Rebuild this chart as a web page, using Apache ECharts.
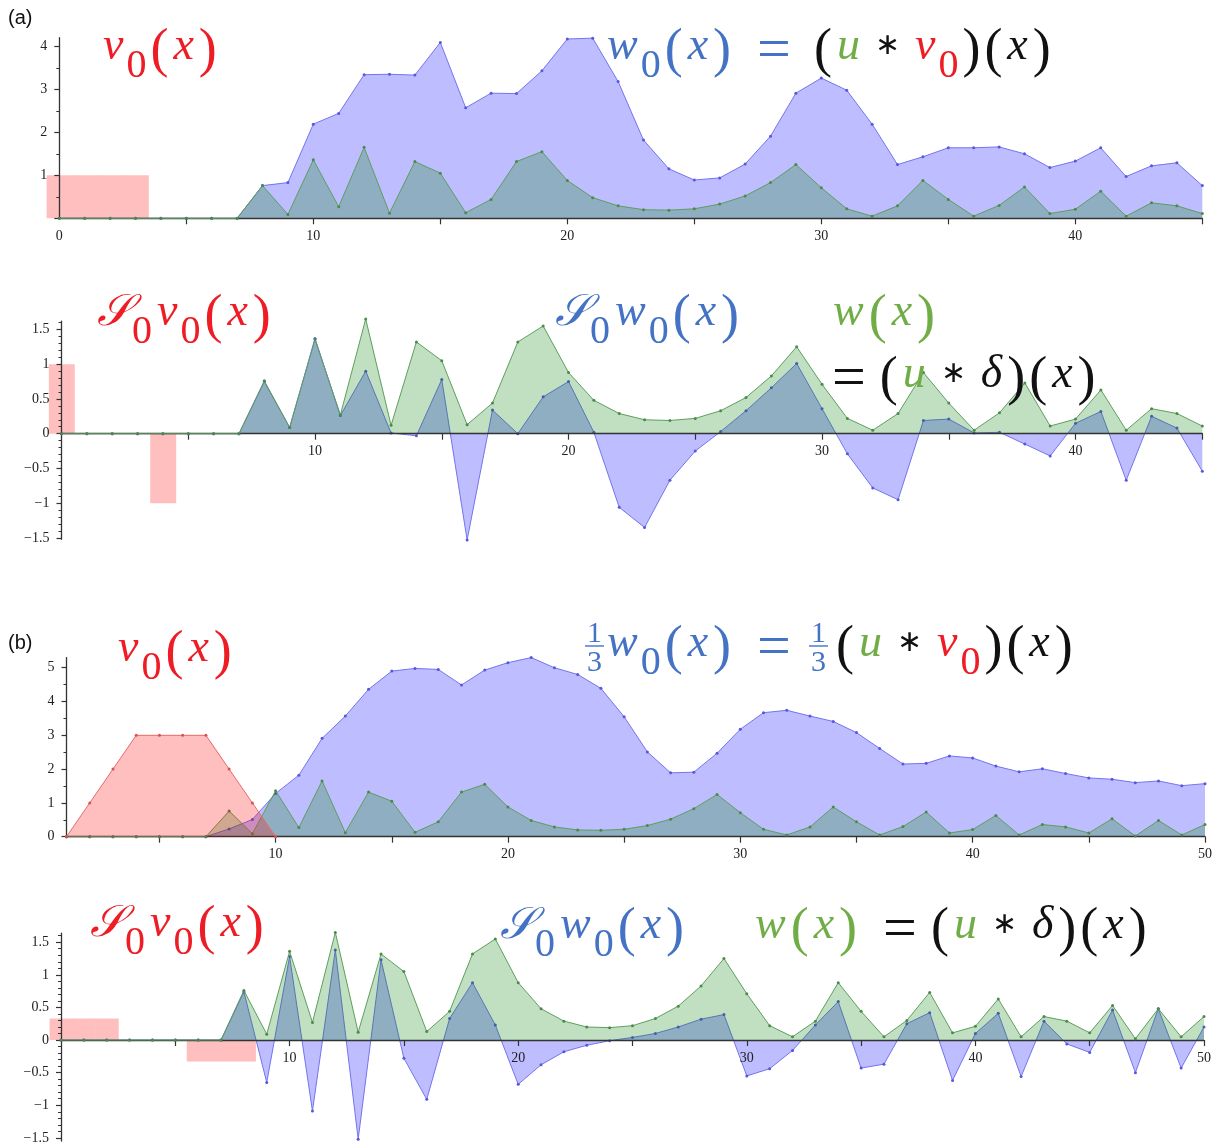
<!DOCTYPE html>
<html><head><meta charset="utf-8">
<script src="https://cdn.jsdelivr.net/npm/echarts@6/dist/echarts.min.js"></script>
<style>html,body{margin:0;padding:0;background:#fff}#c{width:1215px;height:1144px}</style>
</head><body><div id="c"></div>
<script>
// u(x) = w(x), x = 0..50
const u = [0,0,0,0,0,0,0,0,0.76,0.09,1.36,0.27,1.65,0.12,1.32,1.05,0.13,0.44,1.32,1.55,0.88,0.48,0.29,0.20,0.19,0.22,0.33,0.52,0.83,1.25,0.71,0.22,0.05,0.29,0.88,0.44,0.05,0.30,0.73,0.11,0.21,0.63,0.05,0.36,0.29,0.11,0.53,0.02,0.48,0.05,0.36];
// panel (a) top: w0(x), x = 0..45
const w0a = [0,0,0,0,0,0,0,0,0.76,0.83,2.19,2.44,3.34,3.35,3.33,4.09,2.57,2.91,2.90,3.43,4.17,4.19,3.18,1.82,1.15,0.89,0.94,1.26,1.91,2.91,3.26,2.98,2.19,1.25,1.43,1.64,1.64,1.66,1.50,1.18,1.33,1.64,0.97,1.22,1.29,0.76];
const v0aX = [0,1,2,3], v0aY = [1,1,1,1];
// panel (a) bottom: S0 w0(x), x = 0..45
const s0w0a = [0,0,0,0,0,0,0,0,0.75,0.09,1.37,0.26,0.90,0.01,-0.03,0.78,-1.53,0.34,0.00,0.53,0.75,0.02,-1.06,-1.35,-0.67,-0.25,0.03,0.33,0.66,1.01,0.36,-0.29,-0.78,-0.95,0.19,0.21,0.01,0.02,-0.15,-0.32,0.15,0.32,-0.67,0.25,0.08,-0.54];
const s0v0aX = [0,4], s0v0aY = [1,-1];
// panel (b) top: (1/3) w0(x), x = 1..50 ; v0(x), x = 1..10
const w0b = [0,0,0,0,0,0,0,0.23,0.51,1.28,1.82,2.91,3.57,4.36,4.90,4.98,4.95,4.49,4.93,5.15,5.30,5.00,4.80,4.39,3.55,2.51,1.89,1.91,2.47,3.18,3.67,3.74,3.57,3.41,3.08,2.61,2.15,2.17,2.39,2.33,2.09,1.92,2.01,1.87,1.74,1.70,1.60,1.65,1.51,1.57];
const v0b = [0,1,2,3,3,3,3,2,1,0];
// panel (b) bottom: S0 w0(x), x = 0..50
const s0w0b = [0,0,0,0,0,0,0,0,0.74,-0.65,1.28,-1.09,1.38,-1.52,1.23,-0.28,-0.91,0.33,0.88,0.23,-0.68,-0.38,-0.18,-0.08,-0.01,0.04,0.10,0.20,0.32,0.39,-0.55,-0.44,-0.16,0.23,0.59,-0.43,-0.37,0.25,0.42,-0.62,0.10,0.41,-0.56,0.29,-0.06,-0.19,0.46,-0.50,0.48,-0.43,0.20];
const s0v0bX = [0,1,2,6,7,8], s0v0bY = [0.33,0.33,0.33,-0.33,-0.33,-0.33];

// tick values
const xTickA = [5,10,15,20,25,30,35,40,45];
const xLabA1 = [0,10,20,30,40];
const xLabA2 = [10,20,30,40];
const xTickB = [5,10,15,20,25,30,35,40,45,50];
const xLabB = [10,20,30,40,50];
const yMajA1 = [0,1,2,3,4], yLabA1 = [1,2,3,4], yMinA1 = [0.5,1.5,2.5,3.5];
const yMajB1 = [0,1,2,3,4,5], yMinB1 = [0.5,1.5,2.5,3.5,4.5];
const yMajS = [-1.5,-1,-0.5,0,0.5,1,1.5];
const yMinS = [-1.4,-1.3,-1.2,-1.1,-0.9,-0.8,-0.7,-0.6,-0.4,-0.3,-0.2,-0.1,0.1,0.2,0.3,0.4,0.6,0.7,0.8,0.9,1.1,1.2,1.3,1.4,1.6];

const pairs = (start, arr) => arr.map((v, i) => [start + i, v]);
const zip = (xs, ys) => xs.map((x, i) => [x, ys[i]]);

const AX = '#333';
const TF = {fontFamily: 'Liberation Serif', fontSize: 14, color: '#222'};
const BLUE_L = '#7474ee', BLUE_F = 'rgba(0,0,255,0.26)', BLUE_D = '#5656e0';
const GREEN_L = '#5e9e5e', GREEN_F = 'rgba(0,128,0,0.245)', GREEN_D = '#4a8a4a';
const RED_L = '#e86a6a', RED_F = 'rgba(255,0,0,0.25)', PINK = '#ffbfbf';

const G = [
  {left: 59.3, top: 37.7, width: 1143, height: 180.6, ymin: 0, ymax: 4.2},
  {left: 61.5, top: 321.1, width: 1140.8, height: 218.2, ymin: -1.52, ymax: 1.62},
  {left: 66.5, top: 657.6, width: 1138.5, height: 179.1, ymin: 0, ymax: 5.3},
  {left: 61, top: 933.1, width: 1143, height: 208, ymin: -1.55, ymax: 1.64}
];
const grids = G.map(g => ({left: g.left, top: g.top, width: g.width, height: g.height, outerBoundsMode: 'none', containLabel: false}));
// offset that puts the x axis on y = 0
const zeroOffset = gi => {
  const g = G[gi];
  return -(g.height * (0 - g.ymin) / (g.ymax - g.ymin));
};

function xAx(gi, min, max, ticks, labels) {
  return {gridIndex: gi, type: 'value', min, max, position: 'bottom', offset: zeroOffset(gi),
    axisLine: {onZero: false, lineStyle: {color: AX, width: 1.3}},
    axisTick: {show: true, customValues: ticks, length: 6, lineStyle: {color: AX, width: 1.2}},
    axisLabel: Object.assign({customValues: labels, margin: 11}, TF),
    splitLine: {show: false}, z: 3};
}
function yAxes(gi, majors, labels, minors) {
  const g = G[gi];
  return [{gridIndex: gi, type: 'value', position: 'left', min: g.ymin, max: g.ymax, z: 3,
    axisLine: {show: true, onZero: false, lineStyle: {color: AX, width: 1.3}},
    axisTick: {show: true, customValues: majors, length: 5, lineStyle: {color: AX, width: 1.2}},
    axisLabel: Object.assign({customValues: labels, margin: 12,
      formatter: v => String(v).replace('-', '\u2212')}, TF),
    splitLine: {show: false}},
  {gridIndex: gi, type: 'value', position: 'left', min: g.ymin, max: g.ymax, z: 3,
    axisLine: {show: false, onZero: false},
    axisTick: {show: true, customValues: minors, length: 3, lineStyle: {color: AX, width: 1}},
    axisLabel: {show: false}, splitLine: {show: false}}];
}
function line(gi, data, lc, fc, dc, z) {
  return {type: 'line', xAxisIndex: gi, yAxisIndex: 2 * gi, data,
    symbol: 'circle', symbolSize: 3, showSymbol: true, clip: false, silent: true, z,
    lineStyle: {color: lc, width: 1}, itemStyle: {color: dc},
    areaStyle: {color: fc, opacity: 1}};
}
function rects(gi, data) {
  return {type: 'custom', xAxisIndex: gi, yAxisIndex: 2 * gi, data, clip: false, silent: true, z: -1,
    renderItem: (params, api) => {
      const x = api.value(0), v = api.value(1);
      const a = api.coord([x - 0.5, v]), b = api.coord([x + 0.5, 0]);
      return {type: 'rect', shape: {x: Math.min(a[0], b[0]), y: Math.min(a[1], b[1]),
        width: Math.abs(b[0] - a[0]) + 0.6, height: Math.abs(b[1] - a[1])}, style: {fill: PINK}};
    }};
}

// ---------- math labels (rich text) ----------
const COL = {R: '#ee1c24', B: '#4472c4', G: '#70ad47', K: '#111111'};
const MF = 'Liberation Serif';
function styleFor(kind, c) {
  const fill = COL[c];
  const t = (o, h) => Object.assign({fill, fontFamily: MF, height: h, lineHeight: h, verticalAlign: 'top'}, o);
  switch (kind) {
    case 'i': return t({fontStyle: 'italic', fontSize: 46, padding: [0, 3, 0, 3]}, 74);
    case 'S': return t({fontStyle: 'italic', fontSize: 44, padding: [0, 1, 0, 2]}, 74);
    case 'p': return t({fontSize: 54, padding: [0, 2, 0, 2]}, 84);
    case 's': return t({fontSize: 40, padding: [0, 2, 0, 0]}, 112);
    case 'e': return t({fontSize: 60, padding: [0, 12, 0, 24]}, 84);
    case 'a': return t({fontSize: 30, padding: [0, 12, 0, 12]}, 72);
  }
}
function mathLabel(x, base, segs) {
  const rich = {};
  let text = '';
  segs.forEach(([k, c, t]) => {
    const key = k + c;
    if (!rich[key]) rich[key] = styleFor(k, c);
    text += '{' + key + '|' + t + '}';
  });
  return {type: 'text', x, y: base - 50, silent: true, z: 100, style: {text, rich}};
}
function frac(x, top, c) {
  return [
    {type: 'text', x: x, y: top, silent: true, z: 100, style: {text: '1', fill: COL[c], fontFamily: MF, fontSize: 30}},
    {type: 'line', silent: true, z: 100, shape: {x1: x - 2, y1: top + 27, x2: x + 17, y2: top + 27}, style: {stroke: COL[c], lineWidth: 1.4}},
    {type: 'text', x: x, y: top + 29, silent: true, z: 100, style: {text: '3', fill: COL[c], fontFamily: MF, fontSize: 30}}
  ];
}
const SC = '\u{1D4AE}';
const v0R = [['i','R','v'],['s','R','0'],['p','R','('],['i','R','x'],['p','R',')']];
const S0v0 = [['S','R',SC],['s','R','0']].concat(v0R);
const S0w0 = [['S','B',SC],['s','B','0'],['i','B','w'],['s','B','0'],['p','B','('],['i','B','x'],['p','B',')']];
const wxG = [['i','G','w'],['p','G','('],['i','G','x'],['p','G',')']];
const uStarDelta = [['p','K','('],['i','G','u'],['a','K','\u2217'],['i','K','\u03B4'],['p','K',')'],['p','K','('],['i','K','x'],['p','K',')']];
const uStarV0 = [['p','K','('],['i','G','u'],['a','K','\u2217'],['i','R','v'],['s','R','0'],['p','K',')'],['p','K','('],['i','K','x'],['p','K',')']];
const w0eq = [['i','B','w'],['s','B','0'],['p','B','('],['i','B','x'],['p','B',')'],['e','B','=']];

const graphic = [
  {type: 'text', x: 8, y: 8, silent: true, style: {text: '(a)', fill: '#111', fontFamily: 'Liberation Sans', fontSize: 20}},
  {type: 'text', x: 8, y: 633, silent: true, style: {text: '(b)', fill: '#111', fontFamily: 'Liberation Sans', fontSize: 20}},
  mathLabel(100, 60, v0R),
  mathLabel(604, 60, w0eq),
  mathLabel(812, 60, uStarV0),
  mathLabel(95, 326, S0v0),
  mathLabel(553, 326, S0w0),
  mathLabel(830, 326, wxG),
  mathLabel(808, 388, [['e','K','=']].concat(uStarDelta)),
  mathLabel(115, 662, v0R),
  ...frac(587, 619, 'B'),
  mathLabel(604, 657, w0eq),
  ...frac(811, 619, 'B'),
  mathLabel(834, 657, uStarV0),
  mathLabel(88, 937, S0v0),
  mathLabel(498, 939, S0w0),
  mathLabel(752, 939, wxG.concat([['e','K','=']], uStarDelta))
];

const option = {
  animation: false,
  backgroundColor: '#fff',
  grid: grids,
  xAxis: [
    xAx(0, 0, 45, xTickA, xLabA1),
    xAx(1, 0, 45, xTickA, xLabA2),
    xAx(2, 1, 50, xTickB, xLabB),
    xAx(3, 0, 50, xTickB, xLabB)
  ],
  yAxis: [].concat(
    yAxes(0, yMajA1, yLabA1, yMinA1),
    yAxes(1, yMajS, yMajS, yMinS),
    yAxes(2, yMajB1, yMajB1, yMinB1),
    yAxes(3, yMajS, yMajS, yMinS)
  ),
  series: [
    rects(0, zip(v0aX, v0aY)),
    line(0, pairs(0, w0a), BLUE_L, BLUE_F, BLUE_D, 2),
    line(0, pairs(0, u.slice(0, 46)), GREEN_L, GREEN_F, GREEN_D, 3),
    rects(1, zip(s0v0aX, s0v0aY)),
    line(1, pairs(0, s0w0a), BLUE_L, BLUE_F, BLUE_D, 2),
    line(1, pairs(0, u.slice(0, 46)), GREEN_L, GREEN_F, GREEN_D, 3),
    line(2, pairs(1, w0b), BLUE_L, BLUE_F, BLUE_D, 2),
    line(2, pairs(1, u.slice(1)), GREEN_L, GREEN_F, GREEN_D, 3),
    line(2, pairs(1, v0b), RED_L, RED_F, '#d85050', 4),
    rects(3, zip(s0v0bX, s0v0bY)),
    line(3, pairs(0, s0w0b), BLUE_L, BLUE_F, BLUE_D, 2),
    line(3, pairs(0, u), GREEN_L, GREEN_F, GREEN_D, 3)
  ],
  graphic
};
const chart = echarts.init(document.getElementById('c'), null, {renderer: 'canvas'});
chart.setOption(option);
</script></body></html>
